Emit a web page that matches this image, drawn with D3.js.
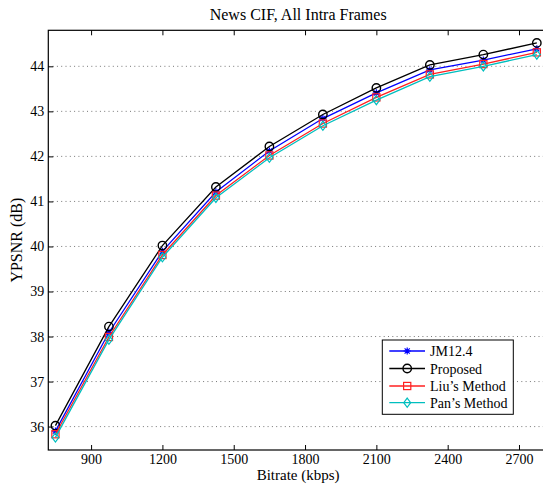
<!DOCTYPE html>
<html>
<head>
<meta charset="utf-8">
<script src="https://cdn.jsdelivr.net/npm/d3@7/dist/d3.min.js"></script>
<style>
  html, body { margin: 0; padding: 0; background: #fff; }
  svg { display: block; }
  text { font-family: "Liberation Serif", "Times New Roman", serif; fill: #000; }
</style>
</head>
<body>
<svg id="chart" width="543" height="486"></svg>
<script>
// Bitrate (kbps) at each coding point
const bitrates = [750, 975, 1200, 1425, 1650, 1875, 2100, 2325, 2550, 2775];

// YPSNR (dB) for each method
const jm124    = [35.90, 38.09, 39.89, 41.21, 42.12, 42.84, 43.41, 43.92, 44.14, 44.39];
const proposed = [36.02, 38.22, 40.02, 41.32, 42.22, 42.93, 43.52, 44.03, 44.26, 44.52];
const liu      = [35.83, 37.99, 39.81, 41.13, 42.02, 42.73, 43.31, 43.82, 44.05, 44.31];
const pan      = [35.76, 37.93, 39.76, 41.08, 41.97, 42.68, 43.25, 43.77, 44.00, 44.26];

const seriesNames = ["JM12.4", "Proposed", "Liu\u2019s Method", "Pan\u2019s Method"];
const seriesColors = ["#0000ff", "#000000", "#ff2020", "#00bfbf"];
const seriesMarkers = ["star", "circle", "square", "diamond"];
const seriesValues = [jm124, proposed, liu, pan];

const xTicks = [900, 1200, 1500, 1800, 2100, 2400, 2700];
const yTicks = [36, 37, 38, 39, 40, 41, 42, 43, 44];

const titleText = "News CIF, All Intra Frames";
const xLabel = "Bitrate (kbps)";
const yLabel = "YPSNR (dB)";

const svg = d3.select("#chart");
const plot = { left: 48.3, top: 30.3, right: 548, bottom: 450 };

const x = d3.scaleLinear().domain([720, 2822]).range([plot.left, plot.right]);
const y = d3.scaleLinear().domain([35.48, 44.8]).range([plot.bottom, plot.top]);

// horizontal dotted grid
svg.append("g")
  .selectAll("line")
  .data(yTicks)
  .join("line")
  .attr("x1", plot.left).attr("x2", plot.right)
  .attr("y1", d => y(d)).attr("y2", d => y(d))
  .attr("stroke", "#555")
  .attr("stroke-width", 0.8)
  .attr("stroke-dasharray", "1,3.3");

// axes with inward ticks
const tickLen = 5;
const fmt = d3.format("d");
const bottomAxis = svg.append("g")
  .attr("transform", `translate(0,${plot.bottom})`)
  .call(d3.axisBottom(x).tickValues(xTicks).tickFormat(fmt).tickSizeInner(-tickLen).tickSizeOuter(0).tickPadding(4));
const topAxis = svg.append("g")
  .attr("transform", `translate(0,${plot.top})`)
  .call(d3.axisTop(x).tickValues(xTicks).tickSizeInner(-tickLen).tickSizeOuter(0).tickFormat(""));
const leftAxis = svg.append("g")
  .attr("transform", `translate(${plot.left},0)`)
  .call(d3.axisLeft(y).tickValues(yTicks).tickFormat(fmt).tickSizeInner(-tickLen).tickSizeOuter(0).tickPadding(4));

[bottomAxis, topAxis, leftAxis].forEach(g => {
  g.attr("font-family", null).attr("font-size", null);
  g.select(".domain").remove();
  g.selectAll(".tick line").attr("stroke", "#000").attr("stroke-width", 1);
  g.selectAll(".tick text")
    .style("font-family", "'Liberation Serif', serif")
    .style("font-size", "14px")
    .attr("fill", "#000");
});

// frame
svg.append("rect")
  .attr("x", plot.left).attr("y", plot.top)
  .attr("width", plot.right - plot.left)
  .attr("height", plot.bottom - plot.top)
  .attr("fill", "none")
  .attr("stroke", "#000")
  .attr("stroke-width", 1.2);

// marker drawing
function drawMarker(g, type, color, cx, cy) {
  if (type === "circle") {
    g.append("circle").attr("cx", cx).attr("cy", cy).attr("r", 4.2)
      .attr("fill", "none").attr("stroke", color).attr("stroke-width", 1.4);
  } else if (type === "square") {
    g.append("rect").attr("x", cx - 3.6).attr("y", cy - 3.6).attr("width", 7.2).attr("height", 7.2)
      .attr("fill", "none").attr("stroke", color).attr("stroke-width", 1.2);
  } else if (type === "diamond") {
    const r = 4.6;
    g.append("path").attr("d", `M${cx},${cy - r}L${cx + r * 0.75},${cy}L${cx},${cy + r}L${cx - r * 0.75},${cy}Z`)
      .attr("fill", "none").attr("stroke", color).attr("stroke-width", 1.2);
  } else if (type === "star") {
    const r = 3.6;
    const p = [];
    p.push(`M${cx - r},${cy}L${cx + r},${cy}`);
    p.push(`M${cx},${cy - r}L${cx},${cy + r}`);
    const d = r * 0.72;
    p.push(`M${cx - d},${cy - d}L${cx + d},${cy + d}`);
    p.push(`M${cx - d},${cy + d}L${cx + d},${cy - d}`);
    g.append("path").attr("d", p.join("")).attr("stroke", color).attr("stroke-width", 1.2).attr("fill", "none");
  }
}

const line = d3.line().x(d => x(d[0])).y(d => y(d[1]));

seriesValues.forEach((vals, i) => {
  const pts = bitrates.map((b, j) => [b, vals[j]]);
  const g = svg.append("g");
  g.append("path")
    .attr("d", line(pts))
    .attr("fill", "none")
    .attr("stroke", seriesColors[i])
    .attr("stroke-width", 1.3);
  pts.forEach(p => drawMarker(g, seriesMarkers[i], seriesColors[i], x(p[0]), y(p[1])));
});

// title and axis labels
svg.append("text")
  .attr("x", (plot.left + plot.right) / 2).attr("y", 20)
  .attr("text-anchor", "middle").style("font-size", "16px")
  .text(titleText);

svg.append("text")
  .attr("x", (plot.left + plot.right) / 2).attr("y", 480)
  .attr("text-anchor", "middle").style("font-size", "15px")
  .text(xLabel);

svg.append("text")
  .attr("transform", `translate(22,${(plot.top + plot.bottom) / 2}) rotate(-90)`)
  .attr("text-anchor", "middle").style("font-size", "16px")
  .text(yLabel);

// legend
const legend = svg.append("g");
const lg = { x: 382.3, y: 340, w: 131, h: 74.3 };
legend.append("rect")
  .attr("x", lg.x).attr("y", lg.y).attr("width", lg.w).attr("height", lg.h)
  .attr("fill", "#fff").attr("stroke", "#000").attr("stroke-width", 1);
const rowY = [351, 368.5, 386, 402.7];
seriesNames.forEach((name, i) => {
  const ry = rowY[i];
  legend.append("line")
    .attr("x1", 389.3).attr("x2", 425).attr("y1", ry).attr("y2", ry)
    .attr("stroke", seriesColors[i]).attr("stroke-width", 1.3);
  drawMarker(legend, seriesMarkers[i], seriesColors[i], 407.2, ry);
  legend.append("text")
    .attr("x", 430).attr("y", ry + 5)
    .style("font-size", "14px")
    .text(name);
});
</script>
</body>
</html>
